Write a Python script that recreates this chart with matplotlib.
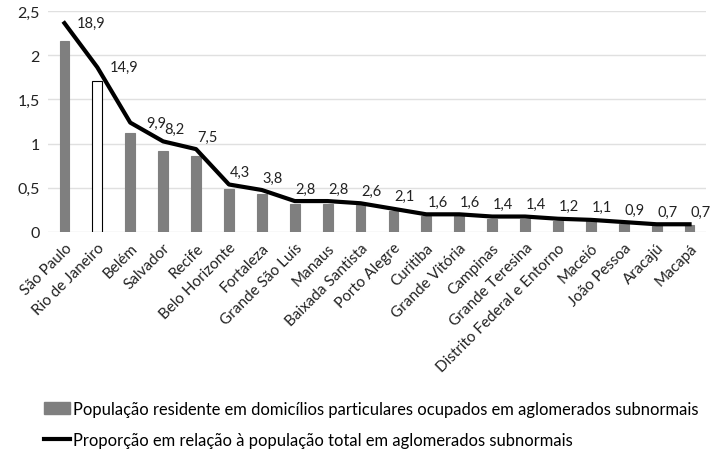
import matplotlib.pyplot as plt
from matplotlib.patches import Patch
from matplotlib.lines import Line2D

cities = ['São Paulo', 'Rio de Janeiro', 'Belém', 'Salvador', 'Recife',
          'Belo Horizonte', 'Fortaleza', 'Grande São Luís', 'Manaus',
          'Baixada Santista', 'Porto Alegre', 'Curitiba', 'Grande Vitória',
          'Campinas', 'Grande Teresina', 'Distrito Federal e Entorno',
          'Maceió', 'João Pessoa', 'Aracajú', 'Macapá']
# population in millions (bars)
pop = [2.16, 1.71, 1.12, 0.92, 0.86, 0.49, 0.43, 0.32, 0.32, 0.30,
       0.24, 0.18, 0.18, 0.15, 0.15, 0.13, 0.12, 0.09, 0.08, 0.08]
# share of total population in subnormal clusters (%)
pct = [18.9, 14.9, 9.9, 8.2, 7.5, 4.3, 3.8, 2.8, 2.8, 2.6,
       2.1, 1.6, 1.6, 1.4, 1.4, 1.2, 1.1, 0.9, 0.7, 0.7]
pct_labels = ['18,9', '14,9', '9,9', '8,2', '7,5', '4,3', '3,8', '2,8', '2,8', '2,6',
              '2,1', '1,6', '1,6', '1,4', '1,4', '1,2', '1,1', '0,9', '0,7', '0,7']
yticks = [0, 0.5, 1, 1.5, 2, 2.5]
ytick_labels = ['0', '0,5', '1', '1,5', '2', '2,5']

font = 'Lato'
gray = '#7f7f7f'

fig = plt.figure(figsize=(7.18, 4.56), dpi=100)
ax = fig.add_axes([48 / 718, 1 - 233 / 456, 658 / 718, 221 / 456])

x = list(range(len(cities)))
colors = [gray] * len(cities)
edges = [gray] * len(cities)
colors[1] = 'white'
edges[1] = 'black'
ax.bar(x, pop, width=0.3, color=colors, edgecolor=edges, linewidth=0.8, zorder=2)

ax.set_xlim(-0.5, len(cities) - 0.5)
ax.set_ylim(0, 2.5)
ax.set_yticks(yticks)
ax.set_yticklabels(ytick_labels, fontsize=11.5, family=font, color='#222222')
ax.set_xticks(x)
ax.set_xticklabels(cities, rotation=45, ha='right', rotation_mode='anchor',
                   fontsize=11, family=font, color='#222222')
ax.tick_params(length=0, pad=6)
ax.grid(axis='y', color='#e0e0e0', linewidth=1, zorder=0)
ax.set_axisbelow(True)
for s in ax.spines.values():
    s.set_visible(False)

ax2 = ax.twinx()
ax2.set_ylim(0, 20)
ax2.plot(x, pct, color='black', linewidth=3, zorder=3, solid_joinstyle='round')
ax2.axis('off')

for i, (v, lab) in enumerate(zip(pct, pct_labels)):
    if i < 3:
        off = (19, 0)
    else:
        off = (8, 9)
    ax2.annotate(lab, (i, v), xytext=off, textcoords='offset points',
                 ha='center', va='center', fontsize=10.5, family=font,
                 color='#222222')

handles = [Patch(facecolor=gray, edgecolor=gray),
           Line2D([0], [0], color='black', linewidth=3)]
labels = ['População residente em domicílios particulares ocupados em aglomerados subnormais',
          'Proporção em relação à população total em aglomerados subnormais']
fig.legend(handles, labels, loc='upper left', bbox_to_anchor=(44 / 718, 1 - 402 / 456),
           frameon=False, handlelength=1.6, handletextpad=0.15, labelspacing=0.9,
           borderpad=0, borderaxespad=0,
           prop={'family': font, 'size': 11.9})

fig.savefig('out.png', dpi=100)
